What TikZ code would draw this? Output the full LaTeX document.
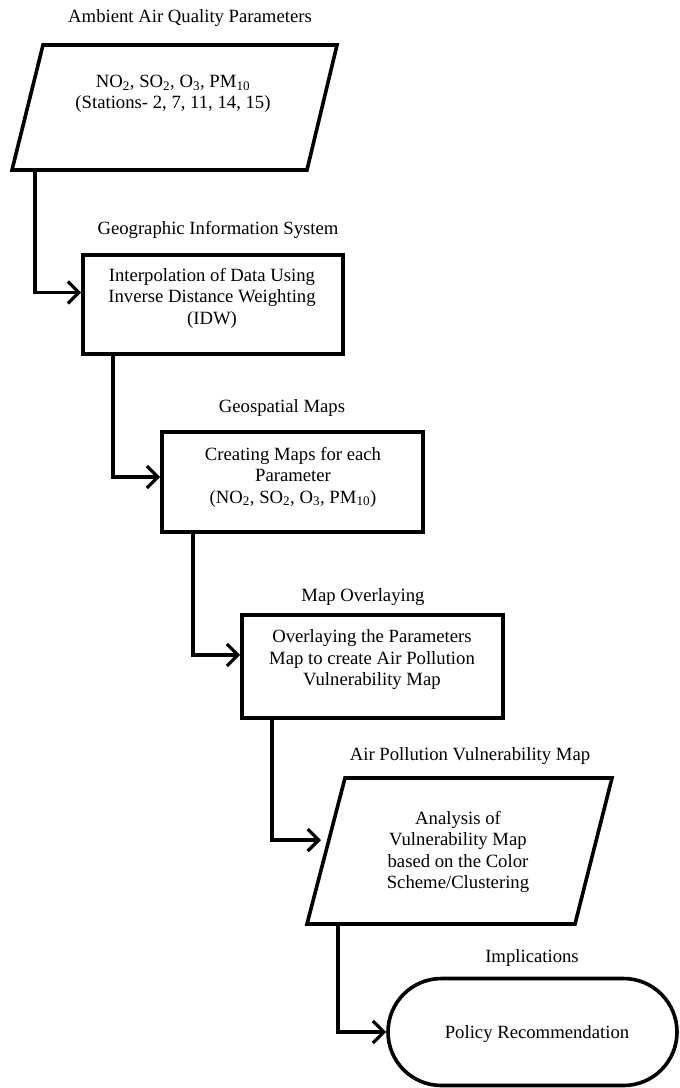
\documentclass[tikz,border=0pt]{standalone}
\usepackage{fontspec}
\setmainfont{Liberation Serif}
\usetikzlibrary{arrows.meta,shapes.misc}
\begin{document}
\begin{tikzpicture}[x=1pt,y=-1pt,
  outline/.style={draw,line width=3.6pt},
  box/.style={outline,rectangle,inner sep=0pt},
  term/.style={outline,rounded rectangle,inner sep=0pt},
  lbl/.style={font=\fontsize{18.7}{21.5}\selectfont,align=center,inner sep=0pt},
  arr/.style={line width=3.2pt,-{Straight Barb[length=11pt,width=22pt]}},
]
\useasboundingbox (0,0) rectangle (680,1088);

% titles
\node[lbl] (h1) at (190,18) {Ambient Air Quality Parameters};
\node[lbl] (h2) at (218,230) {Geographic Information System};
\node[lbl] (h3) at (282,408) {Geospatial Maps};
\node[lbl] (h4) at (363,597) {Map Overlaying};
\node[lbl] (h5) at (470,756) {Air Pollution Vulnerability Map};
\node[lbl] (h6) at (532,958) {Implications};

% parallelogram 1
\draw[outline] (43,45) -- (337,45) -- (307,170) -- (12,170) -- cycle;
\node[lbl] (t1) at (173,94) {NO\textsubscript{2}, SO\textsubscript{2}, O\textsubscript{3}, PM\textsubscript{10}\\(Stations- 2, 7, 11, 14, 15)};
\coordinate (c1) at (35,170);

% box 2
\node[box,minimum width=260pt,minimum height=99pt] (b2) at (213,304.5) {};
\node[lbl] (t2) at (212,298) {Interpolation of Data Using\\Inverse Distance Weighting\\(IDW)};

% box 3
\node[box,minimum width=261pt,minimum height=100pt] (b3) at (292.5,482) {};
\node[lbl] (t3) at (293,477) {Creating Maps for each\\Parameter\\(NO\textsubscript{2}, SO\textsubscript{2}, O\textsubscript{3}, PM\textsubscript{10})};

% box 4
\node[box,minimum width=261pt,minimum height=103pt] (b4) at (372.5,666.5) {};
\node[lbl] (t4) at (372,660) {Overlaying the Parameters\\Map to create Air Pollution\\Vulnerability Map};

% parallelogram 2
\draw[outline] (345,778) -- (612,778) -- (575,924) -- (307,924) -- cycle;
\node[lbl] (t5) at (458,852) {Analysis of\\Vulnerability Map\\based on the Color\\Scheme/Clustering};
\coordinate (c5) at (338,924);
\coordinate (e4) at (321,840);

% terminal
\node[term,minimum width=289pt,minimum height=107pt] (b6) at (532.5,1032) {};
\node[lbl] (t6) at (537,1034) {Policy Recommendation};

% connectors
\draw[arr] (c1) |- ([yshift=12pt]b2.west);
\draw[arr] ([xshift=-100pt]b2.south) |- ([yshift=5pt]b3.west);
\draw[arr] ([xshift=-99.5pt]b3.south) |- ([yshift=11.5pt]b4.west);
\draw[arr] ([xshift=-100.5pt]b4.south) |- (e4);
\draw[arr] (c5) |- (b6.west);
\end{tikzpicture}
\end{document}
